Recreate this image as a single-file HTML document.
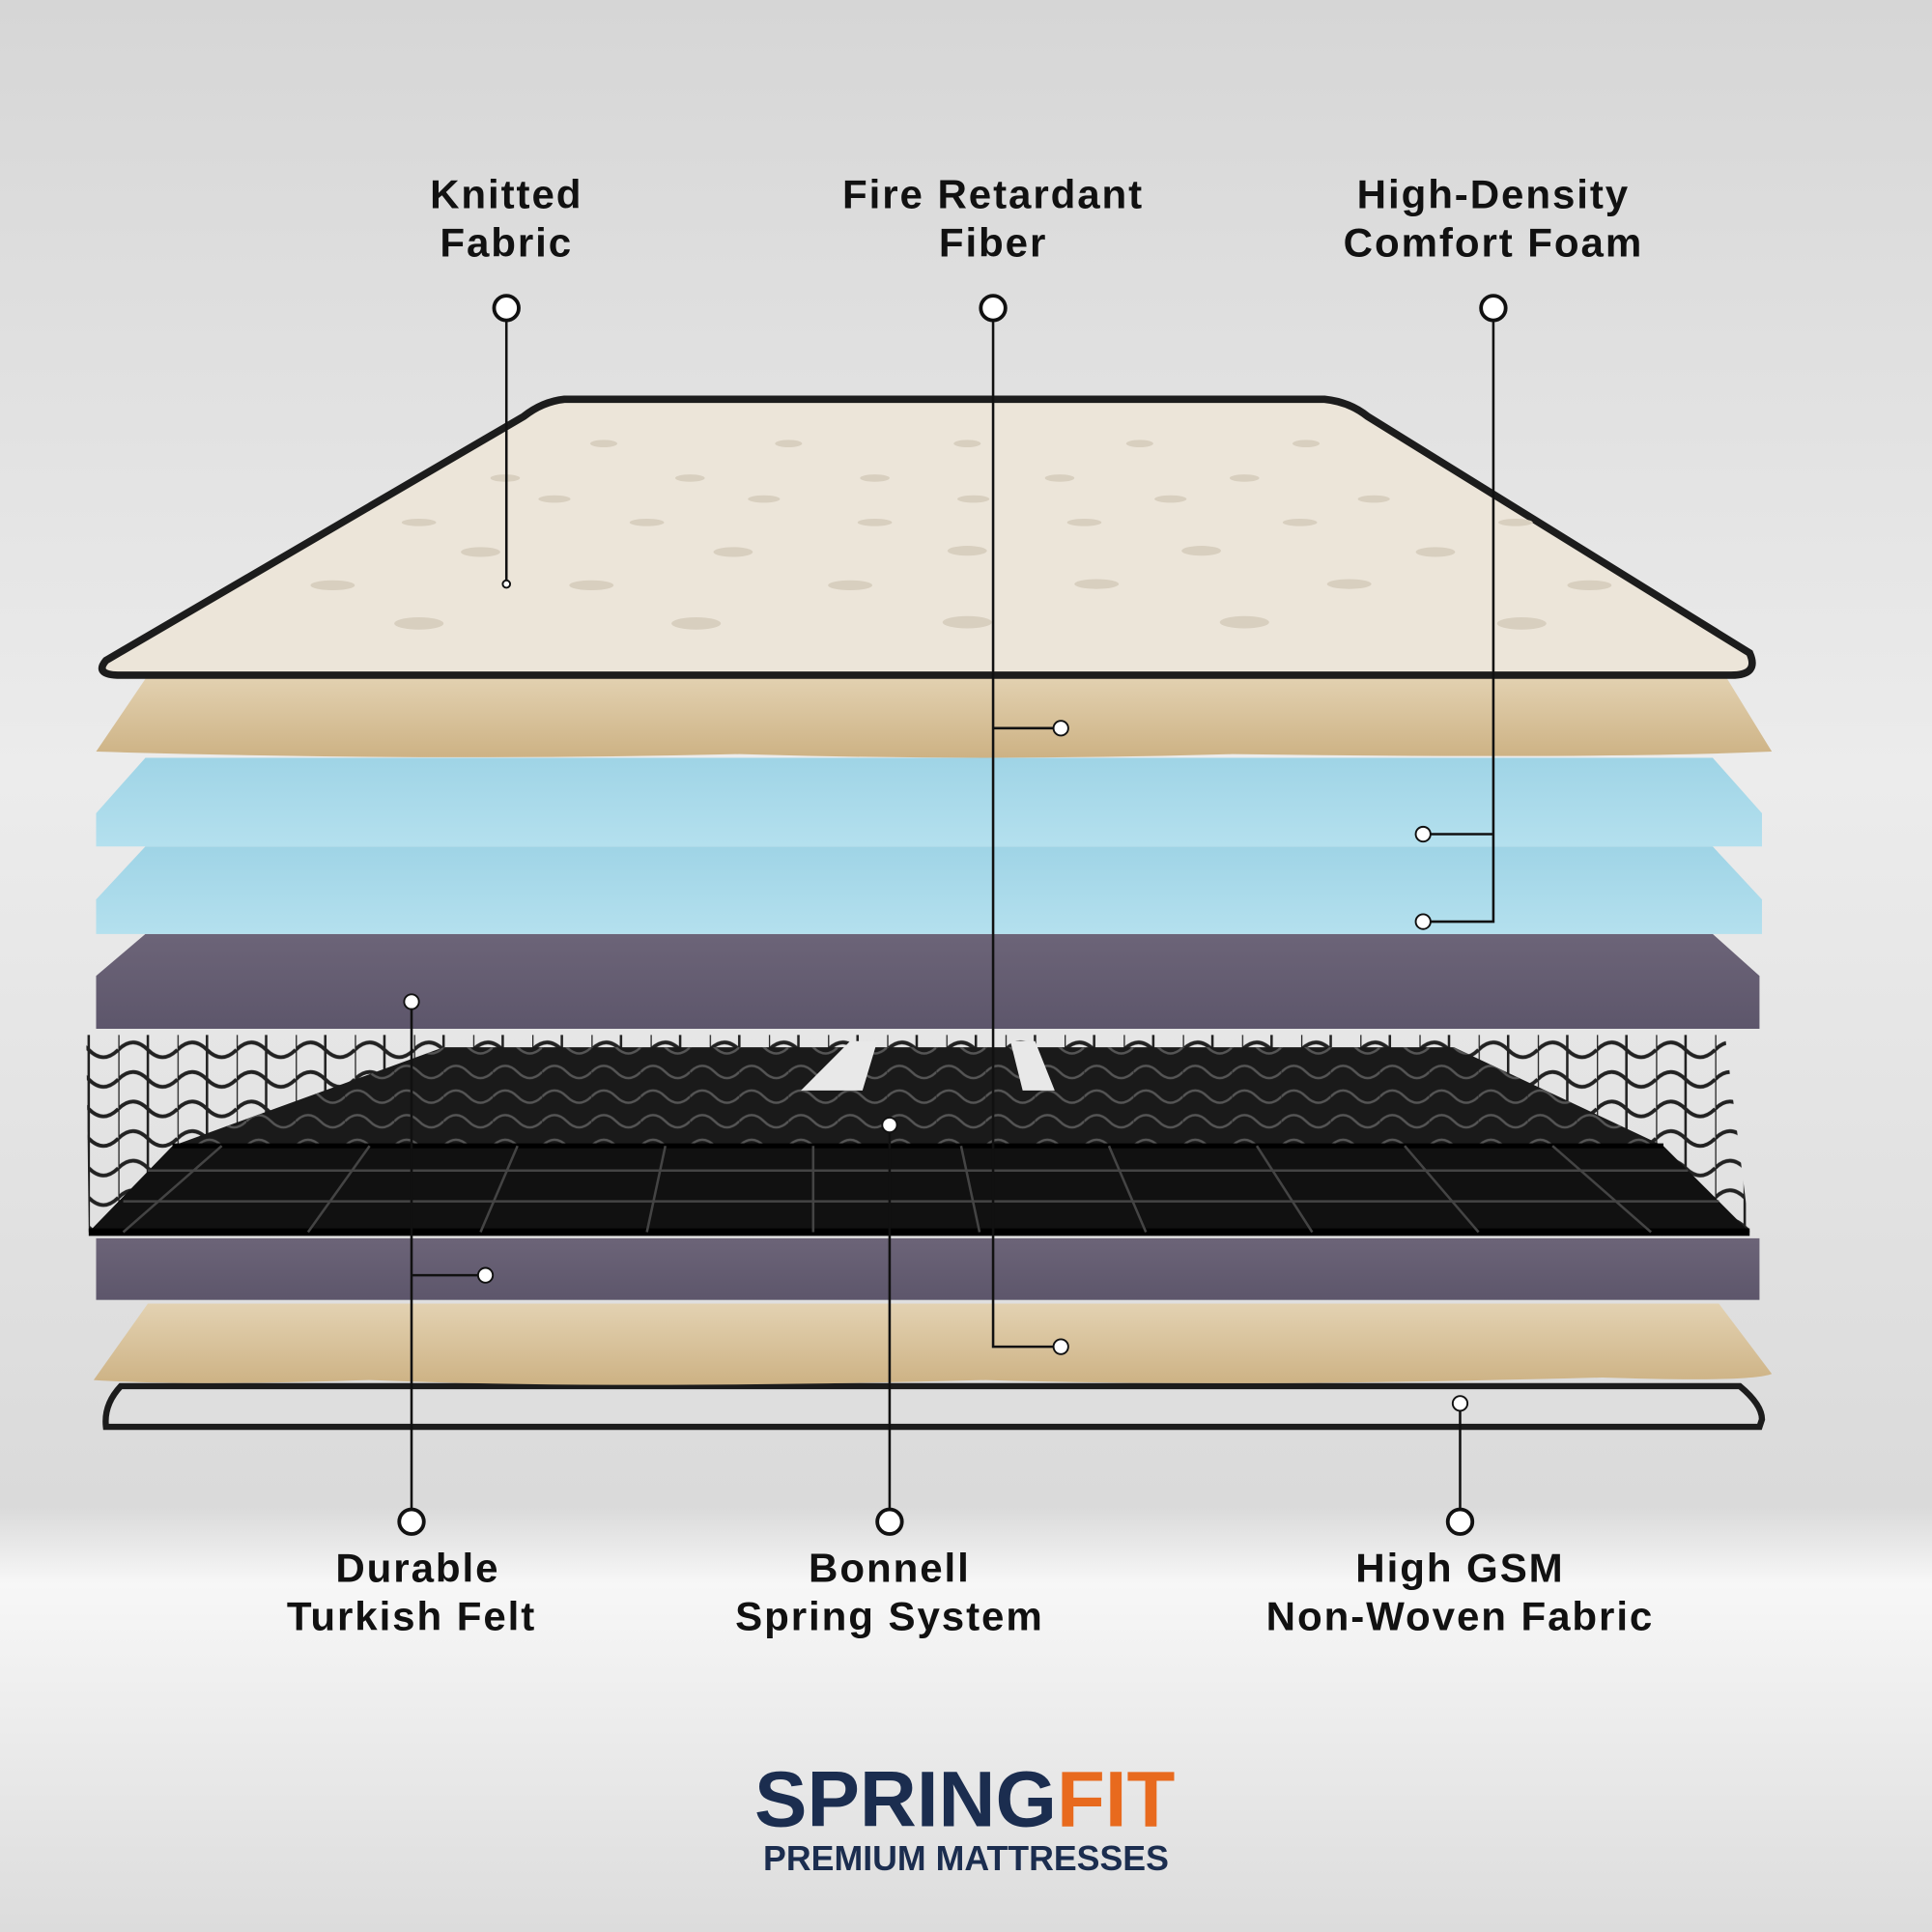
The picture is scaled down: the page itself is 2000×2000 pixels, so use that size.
<!DOCTYPE html>
<html><head><meta charset="utf-8"><style>
html,body{margin:0;padding:0;width:2000px;height:2000px;overflow:hidden}
svg{display:block}
text{font-family:"Liberation Sans","DejaVu Sans",sans-serif;font-weight:bold;text-anchor:middle;fill:#111}
</style></head><body>
<svg width="2000" height="2000" viewBox="0 0 1568 1568" xmlns="http://www.w3.org/2000/svg">
<defs>
<linearGradient id="bg" x1="0" y1="0" x2="0" y2="1">
<stop offset="0" stop-color="#d6d6d6"/><stop offset="0.4" stop-color="#ececec"/>
<stop offset="0.78" stop-color="#dadada"/><stop offset="0.82" stop-color="#f7f7f7"/>
<stop offset="1" stop-color="#dcdcdc"/></linearGradient>
<linearGradient id="tan" x1="0" y1="0" x2="0" y2="1"><stop offset="0" stop-color="#e3d2b2"/><stop offset="1" stop-color="#cdb284"/></linearGradient>
<linearGradient id="blue" x1="0" y1="0" x2="0" y2="1"><stop offset="0" stop-color="#9fd4e6"/><stop offset="1" stop-color="#b4e0ee"/></linearGradient>
<linearGradient id="felt" x1="0" y1="0" x2="0" y2="1"><stop offset="0" stop-color="#6c6478"/><stop offset="1" stop-color="#5d566b"/></linearGradient>
<pattern id="mesh" width="48" height="24" patternUnits="userSpaceOnUse">
<path d="M0 12 Q12 0 24 12 T48 12" fill="none" stroke="#000" stroke-width="3"/>
<path d="M0 0 V24 M24 0 V24" stroke="#000" stroke-width="2"/></pattern>
<pattern id="mesh2" width="40" height="20" patternUnits="userSpaceOnUse">
<path d="M0 10 Q10 0 20 10 T40 10" fill="none" stroke="#555" stroke-width="2"/></pattern>
</defs>
<rect width="1568" height="1568" fill="url(#bg)"/>

<!-- springs -->
<path d="M70 840 L1400 840 L1420 1000 L72 1000 Z" fill="url(#mesh)" opacity="0.85"/>
<path d="M140 930 L1350 930 L1420 1000 L72 1000 Z" fill="#111"/>
<path d="M360 850 L1180 850 L1350 930 L140 930 Z" fill="#1a1a1a"/>
<path d="M360 850 L1180 850 L1350 930 L140 930 Z" fill="url(#mesh2)"/>
<path d="M140 930 L1350 930" stroke="#000" stroke-width="4"/>
<path d="M72 1000 L1420 1000" stroke="#000" stroke-width="6"/>
<path d="M690 845 L712 845 L700 885 L650 885 Z M820 845 L840 845 L856 885 L830 885 Z" fill="#e8e8e8"/>
<g stroke="#444" stroke-width="2" fill="none">
<path d="M180 930 L100 1000 M300 930 L250 1000 M420 930 L390 1000 M540 930 L525 1000 M660 930 L660 1000 M780 930 L795 1000 M900 930 L930 1000 M1020 930 L1065 1000 M1140 930 L1200 1000 M1260 930 L1340 1000"/>
<path d="M120 950 H1370 M100 975 H1395"/>
</g>

<!-- bottom fabric -->
<path d="M98 1125 L1412 1125 Q1430 1140 1430 1152 L1428 1158 L86 1158 Q84 1140 98 1125 Z" fill="#dedede" stroke="#1c1c1c" stroke-width="5"/>
<!-- tan 2 -->
<path d="M120 1058 L1395 1058 L1438 1115 Q1420 1122 1300 1118 Q1000 1126 800 1120 Q500 1128 300 1120 Q150 1125 76 1120 Z" fill="url(#tan)"/>
<!-- felt 2 -->
<rect x="78" y="1005" width="1350" height="50" fill="url(#felt)"/>
<!-- felt 1 -->
<path d="M118 758 L1390 758 L1428 792 L1428 835 L78 835 L78 792 Z" fill="url(#felt)"/>
<!-- blue 2 -->
<path d="M118 687 L1390 687 L1430 730 L1430 758 L78 758 L78 730 Z" fill="url(#blue)"/>
<!-- blue 1 -->
<path d="M118 615 L1390 615 L1430 660 L1430 687 L78 687 L78 660 Z" fill="url(#blue)"/>
<!-- tan 1 -->
<path d="M120 548 L1400 548 L1438 610 Q1300 616 1000 612 Q800 618 600 612 Q350 618 78 610 Z" fill="url(#tan)"/>
<!-- top fabric -->
<path d="M458 324 L1075 324 Q1095 326 1110 338 L1420 530 Q1428 548 1405 548 L98 548 Q76 548 86 536 L425 338 Q440 326 458 324 Z" fill="#ece5d9" stroke="#1c1c1c" stroke-width="6"/>
<g fill="#d8cfbf">
<ellipse cx="340" cy="506" rx="20" ry="5"/><ellipse cx="565" cy="506" rx="20" ry="5"/><ellipse cx="785" cy="505" rx="20" ry="5"/><ellipse cx="1010" cy="505" rx="20" ry="5"/><ellipse cx="1235" cy="506" rx="20" ry="5"/>
<ellipse cx="270" cy="475" rx="18" ry="4"/><ellipse cx="480" cy="475" rx="18" ry="4"/><ellipse cx="690" cy="475" rx="18" ry="4"/><ellipse cx="890" cy="474" rx="18" ry="4"/><ellipse cx="1095" cy="474" rx="18" ry="4"/><ellipse cx="1290" cy="475" rx="18" ry="4"/>
<ellipse cx="390" cy="448" rx="16" ry="4"/><ellipse cx="595" cy="448" rx="16" ry="4"/><ellipse cx="785" cy="447" rx="16" ry="4"/><ellipse cx="975" cy="447" rx="16" ry="4"/><ellipse cx="1165" cy="448" rx="16" ry="4"/>
<ellipse cx="340" cy="424" rx="14" ry="3"/><ellipse cx="525" cy="424" rx="14" ry="3"/><ellipse cx="710" cy="424" rx="14" ry="3"/><ellipse cx="880" cy="424" rx="14" ry="3"/><ellipse cx="1055" cy="424" rx="14" ry="3"/><ellipse cx="1230" cy="424" rx="14" ry="3"/>
<ellipse cx="450" cy="405" rx="13" ry="3"/><ellipse cx="620" cy="405" rx="13" ry="3"/><ellipse cx="790" cy="405" rx="13" ry="3"/><ellipse cx="950" cy="405" rx="13" ry="3"/><ellipse cx="1115" cy="405" rx="13" ry="3"/>
<ellipse cx="410" cy="388" rx="12" ry="3"/><ellipse cx="560" cy="388" rx="12" ry="3"/><ellipse cx="710" cy="388" rx="12" ry="3"/><ellipse cx="860" cy="388" rx="12" ry="3"/><ellipse cx="1010" cy="388" rx="12" ry="3"/>
<ellipse cx="490" cy="360" rx="11" ry="3"/><ellipse cx="640" cy="360" rx="11" ry="3"/><ellipse cx="785" cy="360" rx="11" ry="3"/><ellipse cx="925" cy="360" rx="11" ry="3"/><ellipse cx="1060" cy="360" rx="11" ry="3"/>
</g>

<!-- connectors -->
<g stroke="#111" stroke-width="2" fill="none">
<path d="M411 261 V474"/>
<path d="M806 261 V1093 H860 M806 591 H860"/>
<path d="M1212 261 V748 H1156 M1212 677 H1156"/>
<path d="M334 813 V1224 M334 1035 H393"/>
<path d="M722 913 V1224"/>
<path d="M1185 1139 V1224"/>
</g>
<g fill="#fff" stroke="#111" stroke-width="3">
<circle cx="411" cy="250" r="10"/><circle cx="806" cy="250" r="10"/><circle cx="1212" cy="250" r="10"/>
<circle cx="334" cy="1235" r="10"/><circle cx="722" cy="1235" r="10"/><circle cx="1185" cy="1235" r="10"/>
</g>
<g fill="#fff" stroke="#111" stroke-width="1.5">
<circle cx="411" cy="474" r="3"/><circle cx="861" cy="591" r="6"/><circle cx="861" cy="1093" r="6"/>
<circle cx="1155" cy="677" r="6"/><circle cx="1155" cy="748" r="6"/><circle cx="334" cy="813" r="6"/>
<circle cx="394" cy="1035" r="6"/><circle cx="722" cy="913" r="6"/><circle cx="1185" cy="1139" r="6"/>
</g>

<!-- labels -->
<g font-size="33" letter-spacing="1.5">
<text x="411" y="169">Knitted</text><text x="411" y="208">Fabric</text>
<text x="806" y="169">Fire Retardant</text><text x="806" y="208">Fiber</text>
<text x="1212" y="169">High-Density</text><text x="1212" y="208">Comfort Foam</text>
<text x="339" y="1284">Durable</text><text x="334" y="1323">Turkish Felt</text>
<text x="722" y="1284">Bonnell</text><text x="722" y="1323">Spring System</text>
<text x="1185" y="1284">High GSM</text><text x="1185" y="1323">Non-Woven Fabric</text>
</g>

<!-- logo -->
<text x="783" y="1482" font-size="64" style="fill:#1b2d4f">SPRING<tspan style="fill:#e86a1e">FIT</tspan></text>
<text x="784" y="1518" font-size="28" style="fill:#1b2d4f;font-weight:bold">PREMIUM MATTRESSES</text>
</svg>
</body></html>
